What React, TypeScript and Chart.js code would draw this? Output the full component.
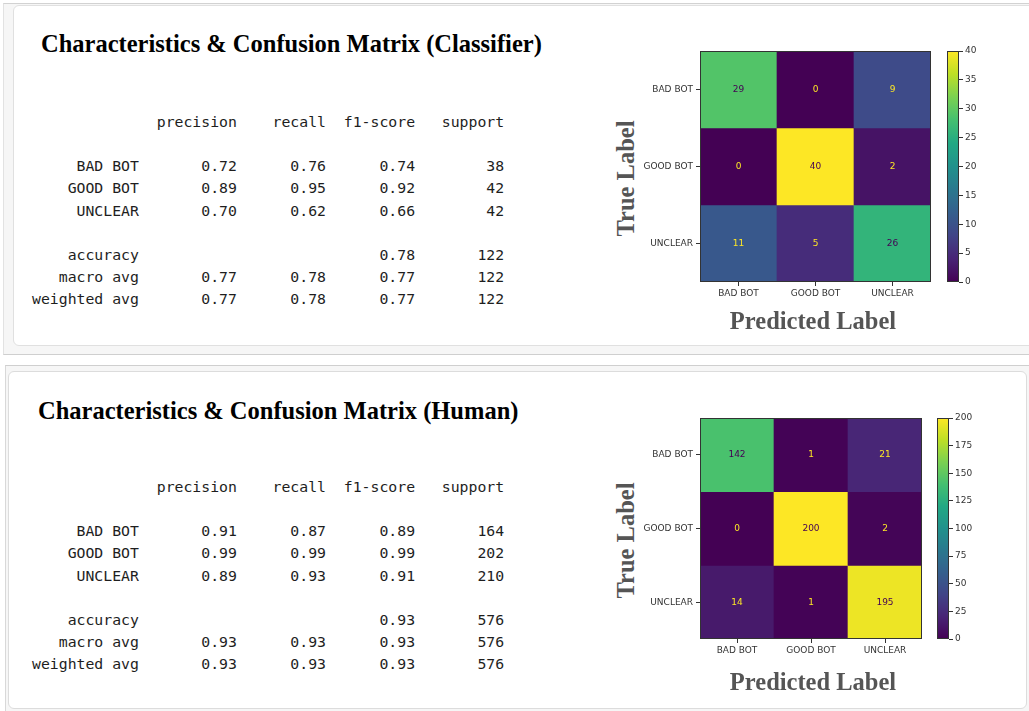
import React, { useEffect, useRef } from "react";
import { Chart, registerables } from "chart.js";

Chart.register(...registerables);

// ---------- data ----------
const CLASS_LABELS = ["BAD BOT", "GOOD BOT", "UNCLEAR"];
const REPORT_HEADERS = ["precision", "recall", "f1-score", "support"];

const classifierMatrix = [
  [29, 0, 9],
  [0, 40, 2],
  [11, 5, 26],
];
const classifierColorbarTicks = [0, 5, 10, 15, 20, 25, 30, 35, 40];
const classifierPrecision = [0.72, 0.89, 0.7];
const classifierRecall = [0.76, 0.95, 0.62];
const classifierF1 = [0.74, 0.92, 0.66];
const classifierSupport = [38, 42, 42];
const classifierAccuracy = 0.78;
const classifierMacro = [0.77, 0.78, 0.77];
const classifierWeighted = [0.77, 0.78, 0.77];
const classifierTotal = 122;

const humanMatrix = [
  [142, 1, 21],
  [0, 200, 2],
  [14, 1, 195],
];
const humanColorbarTicks = [0, 25, 50, 75, 100, 125, 150, 175, 200];
const humanPrecision = [0.91, 0.99, 0.89];
const humanRecall = [0.87, 0.99, 0.93];
const humanF1 = [0.89, 0.99, 0.91];
const humanSupport = [164, 202, 210];
const humanAccuracy = 0.93;
const humanMacro = [0.93, 0.93, 0.93];
const humanWeighted = [0.93, 0.93, 0.93];
const humanTotal = 576;

// ---------- helpers ----------
const VIRIDIS = [
  "#440154", "#482475", "#414487", "#355f8d", "#2a788e", "#21918c",
  "#22a884", "#44bf70", "#7ad151", "#bddf26", "#fde725",
];
function hexToRgb(h: string) {
  return [parseInt(h.slice(1, 3), 16), parseInt(h.slice(3, 5), 16), parseInt(h.slice(5, 7), 16)];
}
function viridis(t: number) {
  const c = Math.max(0, Math.min(1, t));
  const p = c * 10;
  const i = Math.min(9, Math.floor(p));
  const f = p - i;
  const a = hexToRgb(VIRIDIS[i]);
  const b = hexToRgb(VIRIDIS[i + 1]);
  const m = a.map((v, k) => Math.round(v + (b[k] - v) * f));
  return `rgb(${m[0]},${m[1]},${m[2]})`;
}

function buildReport(
  precision: number[], recall: number[], f1: number[], support: number[],
  accuracy: number, macro: number[], weighted: number[], total: number
) {
  const W = 12;
  const num = (v: number) => " " + v.toFixed(2).padStart(9);
  const int = (v: number) => " " + String(v).padStart(9);
  const lines: string[] = [];
  lines.push(" ".repeat(W) + " " + REPORT_HEADERS.map((h) => " " + h.padStart(9)).join(""));
  lines.push("");
  CLASS_LABELS.forEach((name, i) => {
    lines.push(name.padStart(W) + " " + num(precision[i]) + num(recall[i]) + num(f1[i]) + int(support[i]));
  });
  lines.push("");
  lines.push("accuracy".padStart(W) + " " + " ".repeat(20) + num(accuracy) + int(total));
  lines.push("macro avg".padStart(W) + " " + macro.map(num).join("") + int(total));
  lines.push("weighted avg".padStart(W) + " " + weighted.map(num).join("") + int(total));
  return lines.join("\n");
}

const TICK_FONT = { family: "'DejaVu Sans'", size: 9 };
const AXIS_COLOR = "#333333";

const framePlugin = {
  id: "frame",
  afterDraw(chart: any) {
    const { ctx, chartArea } = chart;
    ctx.save();
    ctx.strokeStyle = AXIS_COLOR;
    ctx.lineWidth = 1;
    ctx.strokeRect(
      Math.round(chartArea.left) + 0.5,
      Math.round(chartArea.top) + 0.5,
      Math.round(chartArea.right - chartArea.left) - 1,
      Math.round(chartArea.bottom - chartArea.top) - 1
    );
    ctx.restore();
  },
};

type Rect = { left: number; top: number; width: number; height: number };

function Heatmap({ matrix, plot }: { matrix: number[][]; plot: Rect }) {
  const ref = useRef<HTMLCanvasElement>(null);
  const yW = 60, xH = 30, pad = 10;
  const cw = yW + plot.width + pad;
  const ch = pad + plot.height + xH;
  useEffect(() => {
    const vmax = Math.max(...matrix.flat());
    const datasets = matrix.map((row, r) => ({
      label: CLASS_LABELS[r],
      data: row.map(() => [r, r + 1]),
      values: row,
      backgroundColor: row.map((v) => viridis(v / vmax)),
      borderWidth: 0,
      grouped: false,
      barPercentage: 1,
      categoryPercentage: 1,
    }));
    const labelPlugin = {
      id: "cellLabels",
      afterDatasetsDraw(chart: any) {
        const { ctx } = chart;
        ctx.save();
        ctx.font = "9px 'DejaVu Sans'";
        ctx.textAlign = "center";
        ctx.textBaseline = "middle";
        chart.data.datasets.forEach((ds: any, di: number) => {
          const meta = chart.getDatasetMeta(di);
          meta.data.forEach((el: any, i: number) => {
            const v = ds.values[i];
            ctx.fillStyle = v < vmax / 2 ? "#fde725" : "#440154";
            ctx.fillText(String(v), el.x, (el.y + el.base) / 2);
          });
        });
        ctx.restore();
      },
    };
    const chart = new Chart(ref.current as HTMLCanvasElement, {
      type: "bar",
      data: { labels: CLASS_LABELS, datasets: datasets as any },
      options: {
        animation: false,
        responsive: false,
        layout: { padding: { top: pad, right: pad, left: 0, bottom: 0 } },
        plugins: { legend: { display: false }, tooltip: { enabled: false } },
        scales: {
          x: {
            type: "category",
            offset: true,
            grid: { offset: false, drawOnChartArea: false, drawTicks: true, tickLength: 4, color: AXIS_COLOR },
            border: { display: false },
            ticks: { color: AXIS_COLOR, font: TICK_FONT, padding: 2, maxRotation: 0, autoSkip: false },
            afterFit: (axis: any) => { axis.height = xH; },
          },
          y: {
            type: "linear",
            min: 0,
            max: matrix.length,
            reverse: true,
            grid: { drawOnChartArea: false, drawTicks: true, tickLength: 4, color: AXIS_COLOR },
            border: { display: false },
            afterBuildTicks: (axis: any) => {
              axis.ticks = CLASS_LABELS.map((_, i) => ({ value: i + 0.5 }));
            },
            ticks: {
              color: AXIS_COLOR,
              font: TICK_FONT,
              padding: 3,
              autoSkip: false,
              callback: (_v: any, i: number) => CLASS_LABELS[i],
            },
            afterFit: (axis: any) => { axis.width = yW; },
          },
        },
      } as any,
      plugins: [labelPlugin, framePlugin],
    });
    return () => chart.destroy();
  }, [matrix]);
  return (
    <canvas
      ref={ref}
      width={cw}
      height={ch}
      style={{ position: "absolute", left: plot.left - yW, top: plot.top - pad, width: cw, height: ch }}
    />
  );
}

function Colorbar({ matrix, ticks, bar }: { matrix: number[][]; ticks: number[]; bar: Rect }) {
  const ref = useRef<HTMLCanvasElement>(null);
  const axisW = 30, pad = 10;
  const cw = bar.width + axisW;
  const ch = bar.height + pad * 2;
  useEffect(() => {
    const vmax = Math.max(...matrix.flat());
    const chart = new Chart(ref.current as HTMLCanvasElement, {
      type: "bar",
      data: {
        labels: [""],
        datasets: [
          {
            data: [[0, vmax]],
            borderWidth: 0,
            barPercentage: 1,
            categoryPercentage: 1,
            backgroundColor: (c: any) => {
              const area = c.chart.chartArea;
              if (!area) return viridis(0.5);
              const g = c.chart.ctx.createLinearGradient(0, area.bottom, 0, area.top);
              for (let i = 0; i <= 20; i++) g.addColorStop(i / 20, viridis(i / 20));
              return g;
            },
          } as any,
        ],
      },
      options: {
        animation: false,
        responsive: false,
        layout: { padding: { top: pad, bottom: pad, left: 0, right: 0 } },
        plugins: { legend: { display: false }, tooltip: { enabled: false } },
        scales: {
          x: { type: "category", display: false, offset: true },
          y: {
            type: "linear",
            position: "right",
            min: 0,
            max: vmax,
            grid: { drawOnChartArea: false, drawTicks: true, tickLength: 4, color: AXIS_COLOR },
            border: { display: false },
            afterBuildTicks: (axis: any) => {
              axis.ticks = ticks.map((t) => ({ value: t }));
            },
            ticks: { color: AXIS_COLOR, font: TICK_FONT, padding: 2, autoSkip: false },
            afterFit: (axis: any) => { axis.width = axisW; },
          },
        },
      } as any,
      plugins: [framePlugin],
    });
    return () => chart.destroy();
  }, [matrix, ticks]);
  return (
    <canvas
      ref={ref}
      width={cw}
      height={ch}
      style={{ position: "absolute", left: bar.left, top: bar.top - pad, width: cw, height: ch }}
    />
  );
}

const serifBold = "'Liberation Serif', 'Times New Roman', serif";

function AxisLabels({ trueCy, predCy }: { trueCy: number; predCy: number }) {
  const trueCx = 625;
  const predCx = 813;
  const common: React.CSSProperties = {
    position: "absolute",
    height: 25,
    lineHeight: "25px",
    width: 220,
    textAlign: "center",
    fontFamily: serifBold,
    fontWeight: "bold",
    fontSize: "24.5px",
    color: "#555555",
    whiteSpace: "nowrap",
  };
  return (
    <>
      <div style={{ ...common, left: trueCx - 110, top: trueCy - 12.5, transform: "rotate(-90deg)" }}>True Label</div>
      <div style={{ ...common, left: predCx - 110, top: predCy - 12.5 }}>Predicted Label</div>
    </>
  );
}

function Title({ text, left, top }: { text: string; left: number; top: number }) {
  return (
    <div
      style={{
        position: "absolute", left, top, fontFamily: serifBold, fontWeight: "bold",
        fontSize: "24.5px", lineHeight: "30px", color: "#000", whiteSpace: "nowrap",
      }}
    >
      {text}
    </div>
  );
}

function Report({ text, top }: { text: string; top: number }) {
  return (
    <pre
      style={{
        position: "absolute", left: 32, top, margin: 0,
        fontFamily: "'DejaVu Sans Mono', monospace", fontSize: "14.8px",
        lineHeight: "22.15px", color: "#1e1e1e",
      }}
    >
      {text}
    </pre>
  );
}

export default function App() {
  const topPlot = { left: 700, top: 51, width: 231, height: 231 };
  const topBar = { left: 947, top: 51, width: 12, height: 231 };
  const botPlot = { left: 700, top: 418, width: 222, height: 221 };
  const botBar = { left: 937, top: 418, width: 12, height: 221 };
  const classifierText = buildReport(
    classifierPrecision, classifierRecall, classifierF1, classifierSupport,
    classifierAccuracy, classifierMacro, classifierWeighted, classifierTotal
  );
  const humanText = buildReport(
    humanPrecision, humanRecall, humanF1, humanSupport,
    humanAccuracy, humanMacro, humanWeighted, humanTotal
  );
  return (
    <div style={{ position: "fixed", left: 0, top: 0, width: 1029, height: 711, overflow: "hidden", background: "#fff" }}>
      {/* outer frames */}
      <div style={{ position: "absolute", left: 3, top: 3, width: 1040, height: 350, background: "#f6f6f6", borderTop: "1px solid #d2d2d2", borderLeft: "1px solid #e2e2e2", borderBottom: "1px solid #cfcfcf" }} />
      <div style={{ position: "absolute", left: 5, top: 365, width: 1040, height: 360, background: "#f6f6f6", borderTop: "1px solid #cfcfcf", borderLeft: "1px solid #d8d8d8" }} />
      {/* cards */}
      <div style={{ position: "absolute", left: 13, top: 5, width: 1030, height: 339, background: "#fff", border: "1px solid #e0e0e0", borderRadius: 6 }} />
      <div style={{ position: "absolute", left: 8, top: 371, width: 1017, height: 336, background: "#fff", border: "1px solid #dcdcdc", borderRadius: 6 }} />

      <Title text="Characteristics & Confusion Matrix (Classifier)" left={41} top={29} />
      <Report text={classifierText} top={111} />
      <Heatmap matrix={classifierMatrix} plot={topPlot} />
      <Colorbar matrix={classifierMatrix} ticks={classifierColorbarTicks} bar={topBar} />
      <AxisLabels trueCy={178} predCy={320} />

      <Title text="Characteristics & Confusion Matrix (Human)" left={38} top={396} />
      <Report text={humanText} top={476} />
      <Heatmap matrix={humanMatrix} plot={botPlot} />
      <Colorbar matrix={humanMatrix} ticks={humanColorbarTicks} bar={botBar} />
      <AxisLabels trueCy={540} predCy={681} />
    </div>
  );
}
